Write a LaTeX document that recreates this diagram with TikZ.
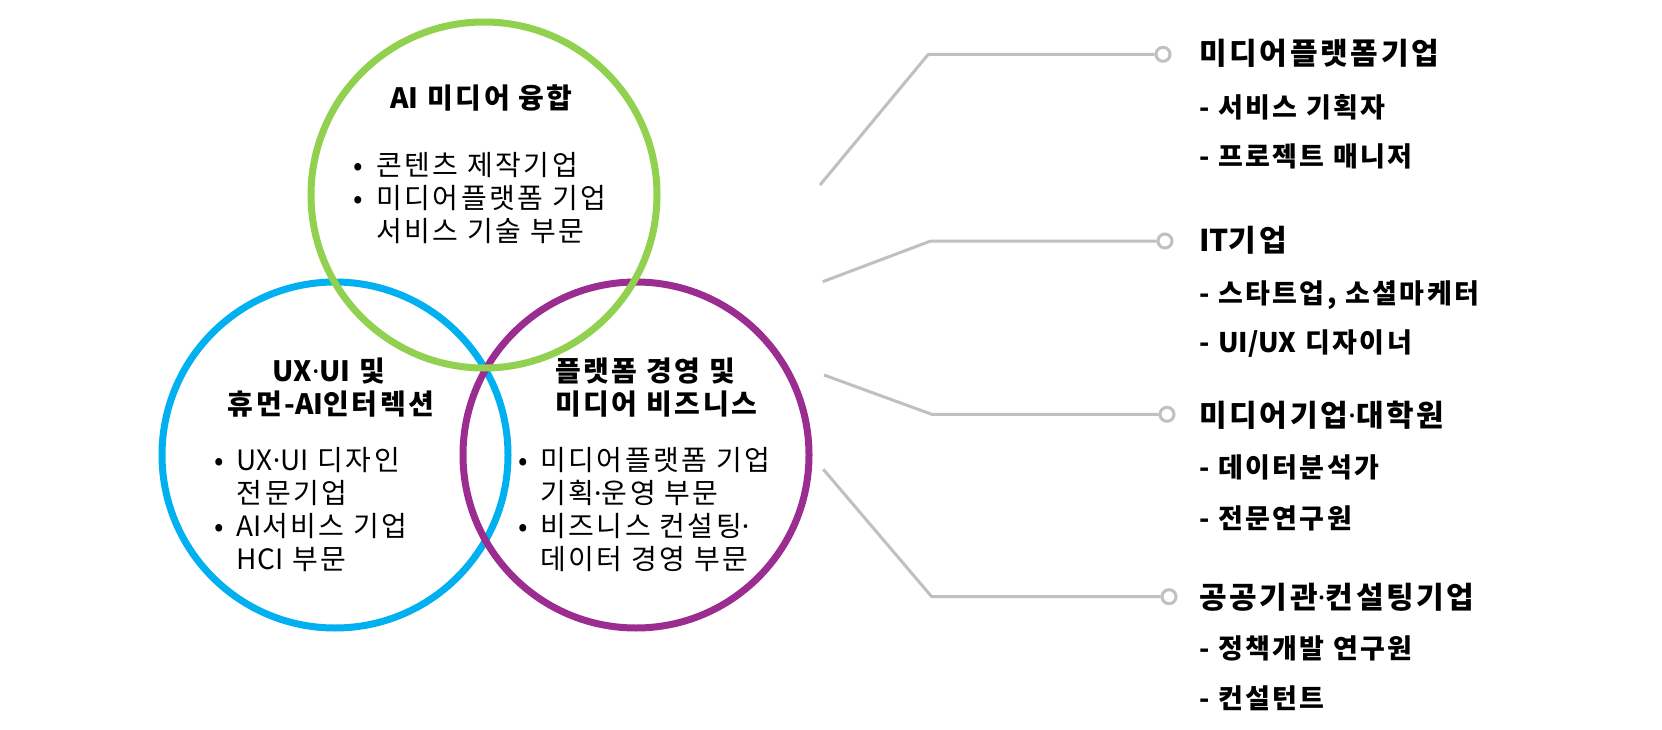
\documentclass[tikz,border=0pt]{standalone}
\usepackage{fontspec}
\setmainfont{Noto Sans CJK KR}[LetterSpace=9]
\newfontfamily\latfont{Noto Sans CJK KR}
\newfontfamily\dotfont{Noto Sans}
\newcommand\kdot{{\dotfont ·}}
\newcommand\lat[1]{{\latfont #1}}
\definecolor{ringgreen}{HTML}{92D050}
\definecolor{ringblue}{HTML}{00B0F0}
\definecolor{ringpurple}{HTML}{9B2D91}
\definecolor{linegray}{HTML}{C0C0C0}
\tikzset{
  ring/.style={circle, draw, line width=7pt, minimum size=346pt, inner sep=0pt},
  body/.style={font=\fontsize{28}{33}\selectfont, inner sep=0pt, anchor=base west},
  bul/.style={font=\fontsize{28}{33}\selectfont, inner sep=0pt, anchor=base},
  headc/.style={font=\bfseries\fontsize{28}{33}\selectfont, inner sep=0pt, anchor=base},
  headl/.style={font=\bfseries\fontsize{28}{33}\selectfont, inner sep=0pt, anchor=base west},
  rhead/.style={font=\bfseries\fontsize{30}{36}\selectfont, inner sep=0pt, anchor=base west},
  ritem/.style={font=\bfseries\fontsize{27}{32}\selectfont, inner sep=0pt, anchor=base west},
  link/.style={draw=linegray, line width=3pt},
  endring/.style={circle, draw=linegray, line width=3pt, fill=white, minimum size=14pt, inner sep=0pt},
}
\begin{document}
\begin{tikzpicture}[x=1pt, y=-1pt]
\useasboundingbox[fill=white] (0,0) rectangle (1662,730);

% circles
\node[ring, draw=ringblue] (cblue) at (335,455) {};
\node[ring, draw=ringpurple] (cpurple) at (636,455) {};
\node[ring, draw=ringgreen] (cgreen) at (484,195) {};

% green circle text
\node[headc] (g0) at (481.5,108.6) {\lat{AI} 미디어 융합};
\node[bul] (gb1) at (358,175.6) {•};
\node[body] (g1) at (376,175.6) {콘텐츠 제작기업};
\node[bul] (gb2) at (358,208.6) {•};
\node[body] (g2) at (376,208.6) {미디어플랫폼 기업};
\node[body] (g3) at (376,241.6) {서비스 기술 부문};

% blue circle text
\node[headc] (b0) at (329,381) {\lat{UX\kdot UI} 및};
\node[headc] (b00) at (331,414) {휴먼-\lat{AI}인터렉션};
\node[bul] (bb1) at (219,470.6) {•};
\node[body] (b1) at (236.7,470.6) {\lat{UX\kdot UI} 디자인};
\node[body] (b2) at (236.7,503.6) {전문기업};
\node[bul] (bb3) at (219,536.6) {•};
\node[body] (b3) at (236.7,536.6) {\lat{AI}서비스 기업};
\node[body] (b4) at (236.7,569.6) {\lat{HCI} 부문};

% purple circle text
\node[headl] (p0) at (555,381) {플랫폼 경영 및};
\node[headl] (p00) at (555,414) {미디어 비즈니스};
\node[bul] (pb1) at (523.3,470.6) {•};
\node[body] (p1) at (540,470.6) {미디어플랫폼 기업};
\node[body] (p2) at (540,503.6) {기획\kdot 운영 부문};
\node[bul] (pb3) at (523.3,536.6) {•};
\node[body] (p3) at (540,536.6) {비즈니스 컨설팅\kdot};
\node[body] (p4) at (540,569.6) {데이터 경영 부문};

% connector end rings
\node[endring] (d1) at (1163,54.3) {};
\node[endring] (d2) at (1165,241) {};
\node[endring] (d3) at (1167,414.3) {};
\node[endring] (d4) at (1169,596.7) {};

% connector free ends and elbows
\coordinate (s1) at (820,185);
\coordinate (k1) at (928.3,54.3);
\coordinate (s2) at (822.7,281.7);
\coordinate (k2) at (930.7,241);
\coordinate (s3) at (824,375);
\coordinate (k3) at (931.7,414.3);
\coordinate (s4) at (823.3,469.3);
\coordinate (k4) at (931.7,596.7);

\draw[link] (s1) -- (k1) -- (d1);
\draw[link] (s2) -- (k2) -- (d2);
\draw[link] (s3) -- (k3) -- (d3);
\draw[link] (s4) -- (k4) -- (d4);

% right-hand texts
\node[rhead] (r1) at (1199,64.7) {미디어플랫폼기업};
\node[ritem] (r11) at (1199,117.3) {- 서비스 기획자};
\node[ritem] (r12) at (1199,167) {- 프로젝트 매니저};
\node[rhead] (r2) at (1199,251.4) {\lat{IT}기업};
\node[ritem] (r21) at (1199,303.6) {- 스타트업, 소셜마케터};
\node[ritem] (r22) at (1199,352) {- \lat{UI/UX} 디자이너};
\node[rhead] (r3) at (1199,426.4) {미디어기업\kdot 대학원};
\node[ritem] (r31) at (1199,477) {- 데이터분석가};
\node[ritem] (r32) at (1199,528.6) {- 전문연구원};
\node[rhead] (r4) at (1199,608) {공공기관\kdot 컨설팅기업};
\node[ritem] (r41) at (1199,658.6) {- 정책개발 연구원};
\node[ritem] (r42) at (1199,708) {- 컨설턴트};
\end{tikzpicture}
\end{document}
